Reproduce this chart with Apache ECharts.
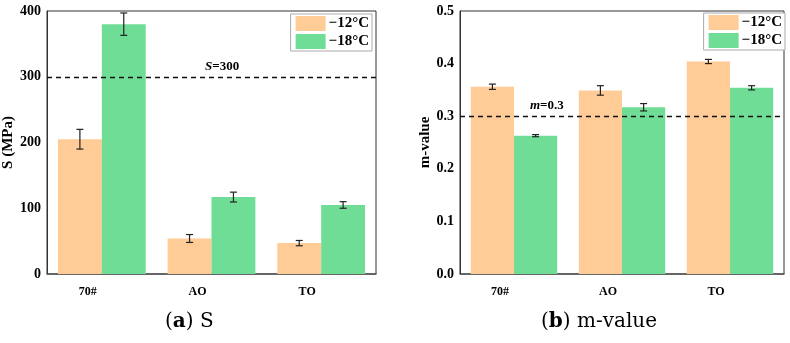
<!DOCTYPE html>
<html>
<head>
<meta charset="utf-8">
<script src="https://cdn.jsdelivr.net/npm/echarts@6/dist/echarts.min.js"></script>
<style>
html, body { margin: 0; padding: 0; background: #fff; }
#main { width: 790px; height: 343px; }
</style>
</head>
<body>
<div id="main"></div>
<script>
var categories = ['70#', 'AO', 'TO'];
var legendNames = ['\u221212\u00b0C', '\u221218\u00b0C'];

// S (MPa)
var sMinus12 = [205, 54, 47];
var sMinus12Err = [15, 6, 4];
var sMinus18 = [380, 117, 105];
var sMinus18Err = [17, 7.5, 5];
var sTicks = [0, 100, 200, 300, 400];
var sLimit = 300;

// m-value
var mMinus12 = [0.356, 0.349, 0.404];
var mMinus12Err = [0.005, 0.009, 0.004];
var mMinus18 = [0.263, 0.317, 0.354];
var mMinus18Err = [0.002, 0.007, 0.004];
var mTicks = [0, 0.1, 0.2, 0.3, 0.4, 0.5];
var mLimit = 0.3;

var orange = '#FFCB97';
var green = '#70DD96';
var serif = '"Liberation Serif", "Times New Roman", serif';

function errData(vals, errs) {
	var d = [];
	for (var i = 0; i < vals.length; i++) {
		d.push([i, vals[i], errs[i]]);
	}
	return d;
}

function errRender(side) {
	return function (params, api) {
		var idx = api.value(0);
		var v = api.value(1);
		var e = api.value(2);
		var off = api.size([1, 0])[0] * 0.2 * side;
		var top = api.coord([idx, v + e]);
		var bot = api.coord([idx, v - e]);
		var x = top[0] + off;
		var cap = 3.5;
		var st = { stroke: '#222', lineWidth: 1.2 };
		return {
			type: 'group',
			children: [
				{ type: 'line', shape: { x1: x, y1: top[1], x2: x, y2: bot[1] }, style: st },
				{ type: 'line', shape: { x1: x - cap, y1: top[1], x2: x + cap, y2: top[1] }, style: st },
				{ type: 'line', shape: { x1: x - cap, y1: bot[1], x2: x + cap, y2: bot[1] }, style: st }
			]
		};
	};
}

function xAxisFor(gi) {
	return {
		type: 'category',
		gridIndex: gi,
		data: categories,
		axisTick: { show: false },
		axisLine: { lineStyle: { color: '#555', width: 1.5 } },
		axisLabel: {
			color: '#000', fontFamily: serif, fontWeight: 'bold', fontSize: 12,
			margin: 12, padding: [0, 28, 0, 0]
		}
	};
}

function yAxisFor(gi, ticks, name, gap, fmt) {
	return {
		type: 'value',
		gridIndex: gi,
		min: ticks[0],
		max: ticks[ticks.length - 1],
		interval: ticks[1] - ticks[0],
		name: name,
		nameLocation: 'middle',
		nameGap: gap,
		nameTextStyle: { color: '#000', fontFamily: serif, fontWeight: 'bold', fontSize: 15 },
		splitLine: { show: false },
		axisTick: { show: false },
		axisLine: { show: true, lineStyle: { color: '#333', width: 1 } },
		axisLabel: {
			color: '#000', fontFamily: serif, fontWeight: 'bold', fontSize: 14, margin: 6,
			formatter: fmt
		}
	};
}

function limitLine(value, sym, num, dist) {
	return {
		silent: true,
		symbol: 'none',
		lineStyle: { color: '#111', type: [5, 4], width: 1.3 },
		label: {
			position: 'insideStartTop',
			distance: dist,
			formatter: '{i|' + sym + '}{n|=' + num + '}',
			rich: {
				i: { fontFamily: serif, fontStyle: 'italic', fontWeight: 'bold', fontSize: 13, color: '#000' },
				n: { fontFamily: serif, fontWeight: 'bold', fontSize: 13, color: '#000' }
			}
		},
		data: [{ yAxis: value }]
	};
}

function legendFor(right, top) {
	return {
		data: legendNames,
		right: right,
		top: top,
		orient: 'vertical',
		itemWidth: 30,
		itemHeight: 15,
		itemGap: 3,
		padding: [2, 3, 2, 5],
		borderColor: '#aaa',
		borderWidth: 1,
		backgroundColor: '#fff',
		icon: 'rect',
		textStyle: { color: '#000', fontFamily: serif, fontWeight: 'bold', fontSize: 15, padding: [0, 0, 0, -2] }
	};
}

var dom = document.getElementById('main');
var myChart = echarts.init(dom);
var option = {
	animation: false,
	backgroundColor: '#fff',
	grid: [
		{ left: 47, top: 11, width: 329, height: 263, show: true, borderColor: '#333', borderWidth: 1 },
		{ left: 460, top: 11, width: 324, height: 263, show: true, borderColor: '#333', borderWidth: 1 }
	],
	legend: [legendFor(418, 14), legendFor(5, 13)],
	xAxis: [xAxisFor(0), xAxisFor(1)],
	yAxis: [
		yAxisFor(0, sTicks, 'S (MPa)', 27, function (v) { return v; }),
		yAxisFor(1, mTicks, 'm-value', 26, function (v) { return v.toFixed(1); })
	],
	graphic: [
		{
			type: 'text', left: 165, top: 312,
			style: {
				text: '({b|a}) S', fontFamily: '"DejaVu Serif", serif', fontSize: 20, fill: '#000',
				rich: { b: { fontFamily: '"DejaVu Serif", serif', fontSize: 20, fontWeight: 'bold', fill: '#000' } }
			}
		},
		{
			type: 'text', left: 541, top: 312,
			style: {
				text: '({b|b}) m-value', fontFamily: '"DejaVu Serif", serif', fontSize: 20, fill: '#000',
				rich: { b: { fontFamily: '"DejaVu Serif", serif', fontSize: 20, fontWeight: 'bold', fill: '#000' } }
			}
		}
	],
	series: [
		{
			name: legendNames[0], type: 'bar', xAxisIndex: 0, yAxisIndex: 0,
			data: sMinus12, itemStyle: { color: orange }, barGap: '0%', barCategoryGap: '20%',
			markLine: limitLine(sLimit, 'S', '300', [158, 4])
		},
		{
			name: legendNames[1], type: 'bar', xAxisIndex: 0, yAxisIndex: 0,
			data: sMinus18, itemStyle: { color: green }, barGap: '0%', barCategoryGap: '20%'
		},
		{
			name: legendNames[0], type: 'bar', xAxisIndex: 1, yAxisIndex: 1,
			data: mMinus12, itemStyle: { color: orange }, barGap: '0%', barCategoryGap: '20%',
			markLine: limitLine(mLimit, 'm', '0.3', [70, 4])
		},
		{
			name: legendNames[1], type: 'bar', xAxisIndex: 1, yAxisIndex: 1,
			data: mMinus18, itemStyle: { color: green }, barGap: '0%', barCategoryGap: '20%'
		},
		{ type: 'custom', xAxisIndex: 0, yAxisIndex: 0, z: 5, renderItem: errRender(-1), data: errData(sMinus12, sMinus12Err) },
		{ type: 'custom', xAxisIndex: 0, yAxisIndex: 0, z: 5, renderItem: errRender(1), data: errData(sMinus18, sMinus18Err) },
		{ type: 'custom', xAxisIndex: 1, yAxisIndex: 1, z: 5, renderItem: errRender(-1), data: errData(mMinus12, mMinus12Err) },
		{ type: 'custom', xAxisIndex: 1, yAxisIndex: 1, z: 5, renderItem: errRender(1), data: errData(mMinus18, mMinus18Err) }
	]
};
if (option && typeof option === "object") {
	myChart.setOption(option, true);
}
</script>
</body>
</html>
